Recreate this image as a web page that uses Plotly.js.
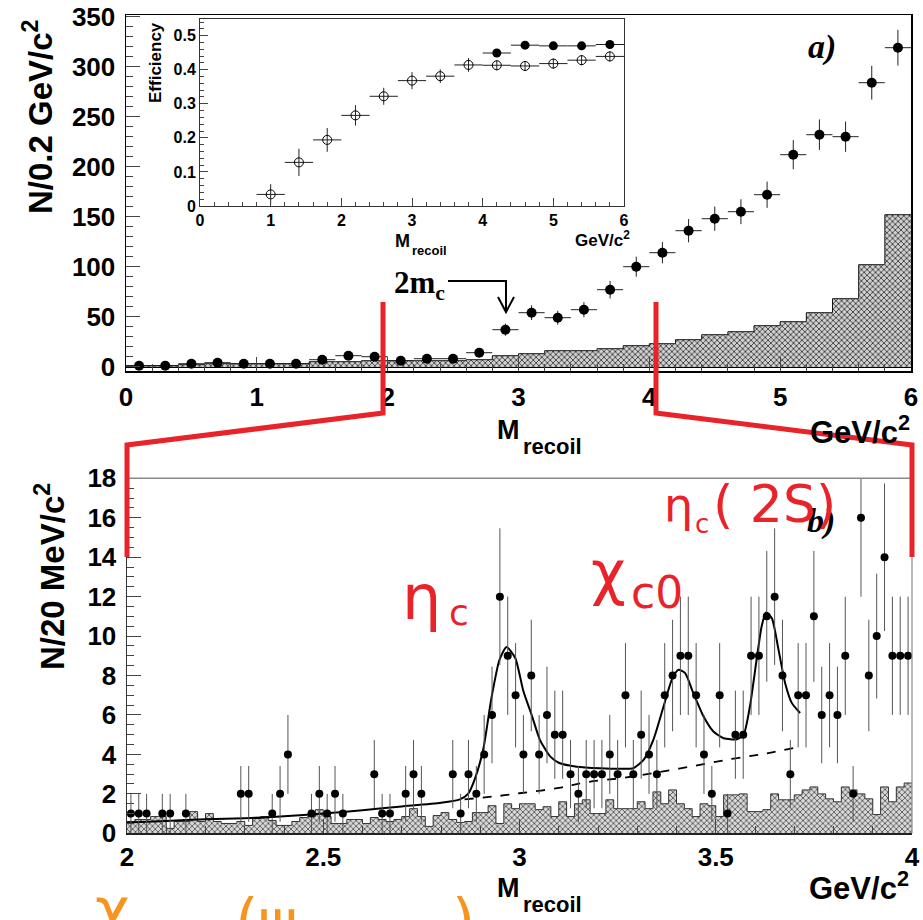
<!DOCTYPE html>
<html><head><meta charset="utf-8">
<script src="https://cdn.plot.ly/plotly-3.0.1.min.js"></script>
<style>html,body{margin:0;padding:0;background:#fff}#chart{width:923px;height:920px}</style>
</head><body><div id="chart"></div>
<script>
// ---------- DATA ----------
// Top panel (a): bins of 0.2 GeV/c^2 from 0 to 6
const topBinStart = 0, topBinWidth = 0.2;
const topCounts = [1,1,3,4,3,3,3,7,11,10,6,8,8,14,37,54,49,57,77,100,114,136,148,155,172,212,232,230,284,319];
const topBackground = [1,1,2,3,3,3,3,5,5,6,6,6,6,7,11,13,16,16,18,21,23,27,32,35,41,45,54,68,102,152];
// Inset: efficiency
const effX = [1.0,1.4,1.8,2.2,2.6,3.0,3.4,3.8,4.2,4.6,5.0,5.4,5.8];
const effOpen = [0.034,0.128,0.194,0.266,0.322,0.368,0.381,0.414,0.413,0.411,0.418,0.428,0.439];
const effOpenErr = [0.03,0.04,0.035,0.03,0.025,0.025,0.02,0.02,0.015,0.015,0.015,0.015,0.015];
const effFilledX = [4.2,4.6,5.0,5.4,5.8];
const effFilled = [0.449,0.472,0.470,0.470,0.474];
const effFilledErr = [0.01,0.01,0.01,0.01,0.01];
// Bottom panel (b): 20 MeV bins from 2.0 to 4.0
const botBinStart = 2.0, botBinWidth = 0.02;
const botX = [2.01,2.03,2.05,2.09,2.11,2.15,2.29,2.31,2.37,2.39,2.41,2.47,2.49,2.51,2.53,2.55,2.63,2.65,2.67,2.71,2.73,2.75,2.83,2.85,2.87,2.89,2.91,2.93,2.95,2.97,2.99,3.01,3.03,3.05,3.07,3.09,3.11,3.13,3.15,3.17,3.19,3.21,3.23,3.25,3.27,3.29,3.31,3.33,3.35,3.37,3.39,3.41,3.43,3.45,3.47,3.49,3.51,3.53,3.55,3.57,3.59,3.61,3.63,3.65,3.67,3.69,3.71,3.73,3.75,3.77,3.79,3.81,3.83,3.85,3.87,3.89,3.91,3.93,3.95,3.97,3.99];
const botCounts = [1,1,1,1,1,1,2,2,1,2,4,1,2,1,2,1,3,1,1,2,3,2,3,1,3,2,4,6,12,9,7,4,8,4,6,5,5,3,2,3,3,3,4,3,7,3,5,4,3,7,8,9,9,7,4,2,7,1,5,5,9,9,11,12,8,3,7,7,11,6,7,6,9,2,16,8,10,14,9,9,9];
const botBackground = [0.6,0.7,0.7,0.85,0.85,0.25,0.6,0.6,1.1,0.6,
  1.0,0.6,0.5,0.5,0.6,0.4,0.75,0.85,0.65,0.4,
  0.4,0.6,0.8,0.85,1.2,0.85,0.5,0.5,0.7,0.7,
  0.5,0.8,0.7,0.6,0.7,0.85,1.25,0.85,0.35,0.9,
  1.05,0.7,0.55,0.6,1.05,1.05,1.4,0.5,1.5,1.25,
  1.5,1.5,1.2,1.35,0.85,1.6,0.85,1.5,1.7,1.0,
  1.0,1.7,1.25,1.25,1.25,1.6,1.25,2.1,1.5,2.2,
  1.5,1.25,0.85,1.5,1.4,0.85,1.95,1.95,2.0,1.1,
  1.1,1.2,2.0,1.7,1.7,1.95,2.2,2.35,2.0,1.75,
  1.6,2.35,2.2,2.0,1.75,0.95,2.35,1.6,2.35,2.55];
const fitX = [2.0,2.1,2.2,2.3,2.4,2.5,2.6,2.7,2.8,2.848,2.869,2.887,2.908,2.928,2.949,2.967,2.989,3.010,3.031,3.052,3.078,3.103,3.146,3.205,3.256,3.290,3.316,3.341,3.367,3.388,3.405,3.422,3.443,3.469,3.494,3.520,3.554,3.571,3.587,3.604,3.617,3.628,3.643,3.660,3.677,3.694,3.715];
const fitY = [0.55,0.63,0.71,0.76,0.86,1.0,1.17,1.36,1.55,1.72,2.0,2.8,4.3,6.8,8.8,9.44,8.9,7.2,6.0,4.74,3.9,3.55,3.38,3.3,3.27,3.3,3.72,4.74,6.43,7.78,8.29,8.12,7.1,5.92,5.16,4.82,4.77,5.0,6.43,8.8,10.5,11.2,10.9,9.3,7.6,6.6,6.1];
const bkgX = [2.86,2.95,3.0,3.1,3.17,3.26,3.34,3.44,3.54,3.63,3.715];
const bkgY = [1.72,1.9,2.03,2.3,2.59,2.8,3.05,3.4,3.77,4.05,4.4];
const topXTicks = [0,1,2,3,4,5,6];
const topYTicks = [0,50,100,150,200,250,300,350];
const botXTicks = [2,2.5,3,3.5,4];
const botXTickText = ['2','2.5','3','3.5','4'];
const botYTicks = [0,2,4,6,8,10,12,14,16,18];

// ---------- helpers ----------
const W = 923, H = 920;
const px = x => x / W, py = y => 1 - y / H;
function centers(start, width, n){ const c=[]; for(let i=0;i<n;i++) c.push(+(start+width*(i+0.5)).toFixed(4)); return c; }
function stepXY(start, width, vals){ const x=[],y=[]; for(let i=0;i<vals.length;i++){x.push(start+width*i);y.push(vals[i]);} x.push(start+width*vals.length); y.push(vals[vals.length-1]); return {x,y}; }

const topBgC = centers(topBinStart, topBinWidth, topBackground.length);
const topC = centers(topBinStart, topBinWidth, topCounts.length);
const botBgC = centers(botBinStart, botBinWidth, botBackground.length);
const topStep = stepXY(topBinStart, topBinWidth, topBackground);
const botStep = stepXY(botBinStart, botBinWidth, botBackground);

const traces = [
  {type:'bar', x:topBgC, y:topBackground, width:topBinWidth, xaxis:'x', yaxis:'y',
   marker:{color:'#d0d0d0', pattern:{shape:'x', fgcolor:'#333', bgcolor:'#d0d0d0', size:4, solidity:0.38}, line:{width:0}}, hoverinfo:'skip'},
  {type:'scatter', mode:'lines', x:topStep.x, y:topStep.y, line:{shape:'hv', color:'#111', width:1}, xaxis:'x', yaxis:'y', hoverinfo:'skip'},
  {type:'scatter', mode:'markers', x:topC, y:topCounts, xaxis:'x', yaxis:'y',
   marker:{color:'black', size:10},
   error_y:{type:'sqrt', width:0, thickness:1, color:'#222'},
   error_x:{type:'constant', value:topBinWidth/2, width:0, thickness:1, color:'#222'}},
  {type:'scatter', mode:'markers', x:effX, y:effOpen, xaxis:'x2', yaxis:'y2',
   marker:{symbol:'circle-open', color:'black', size:9, line:{width:1}},
   error_y:{type:'data', array:effOpenErr, width:0, thickness:1, color:'#222'},
   error_x:{type:'constant', value:0.2, width:0, thickness:1, color:'#222'}},
  {type:'scatter', mode:'markers', x:effFilledX, y:effFilled, xaxis:'x2', yaxis:'y2',
   marker:{symbol:'circle', color:'black', size:9},
   error_y:{type:'data', array:effFilledErr, width:0, thickness:1, color:'#222'},
   error_x:{type:'constant', value:0.2, width:0, thickness:1, color:'#222'}},
  {type:'bar', x:botBgC, y:botBackground, width:botBinWidth, xaxis:'x3', yaxis:'y3',
   marker:{color:'#d4d4d4', pattern:{shape:'x', fgcolor:'#333', bgcolor:'#d8d8d8', size:4, solidity:0.32}, line:{width:0}}, hoverinfo:'skip'},
  {type:'scatter', mode:'lines', x:botStep.x, y:botStep.y, line:{shape:'hv', color:'#333', width:1}, xaxis:'x3', yaxis:'y3', hoverinfo:'skip'},
  {type:'scatter', mode:'lines', x:bkgX, y:bkgY, xaxis:'x3', yaxis:'y3', line:{color:'black', width:1.8, dash:'dash', shape:'spline'}},
  {type:'scatter', mode:'lines', x:fitX, y:fitY, xaxis:'x3', yaxis:'y3', line:{color:'black', width:2, shape:'spline', smoothing:0.6}},
  {type:'scatter', mode:'markers', x:botX, y:botCounts, xaxis:'x3', yaxis:'y3',
   marker:{color:'black', size:8},
   error_y:{type:'sqrt', width:0, thickness:1, color:'#555'}}
];

const bold = {family:'Liberation Sans, Arial, sans-serif', weight:'bold', color:'black'};
function ann(text, x, y, size, o){
  return Object.assign({text:text, x:px(x), y:py(y), xref:'paper', yref:'paper', showarrow:false,
    xanchor:'center', yanchor:'middle', font:Object.assign({}, bold, {size:size})}, o||{});
}
const red = '#e8232a', orange = '#f7941d';
const redFont = s => ({family:'DejaVu Sans, sans-serif', size:s, color:red});
const orangeFont = s => ({family:'DejaVu Sans, sans-serif', size:s, color:orange});
const serifBI = s => ({family:'Liberation Serif, serif', size:s, weight:'bold', style:'italic', color:'black'});

const annotations = [
  ann('N/0.2 GeV/c<sup>2</sup>', 38, 117, 33, {textangle:-90}),
  ann('M', 508, 430, 27),
  ann('recoil', 521, 446, 22, {xanchor:'left'}),
  ann('GeV/c<sup>2</sup>', 912, 430, 31, {xanchor:'right'}),
  ann('Efficiency', 156, 63, 17, {textangle:-90}),
  ann('M', 402, 241, 18),
  ann('recoil', 410, 250, 13, {xanchor:'left'}),
  ann('GeV/c<sup>2</sup>', 632, 239, 17, {xanchor:'right'}),
  ann('a)', 822, 47, 34, {font:serifBI(34)}),
  ann('2m<sub>c</sub>', 447, 285, 31, {xanchor:'right', font:{family:'Liberation Serif, serif', size:31, weight:'bold', color:'black'}}),
  ann('N/20 MeV/c<sup>2</sup>', 50, 577, 33, {textangle:-90}),
  ann('M', 508, 888, 27),
  ann('recoil', 521, 904, 22, {xanchor:'left'}),
  ann('GeV/c<sup>2</sup>', 911, 886, 31, {xanchor:'right'}),
  ann('b)', 821, 521, 34, {font:serifBI(34)}),
  ann('η', 421, 597, 62, {font:redFont(62)}),
  ann('c', 459, 612, 36, {font:redFont(36)}),
  ann('χ', 608, 572, 60, {font:redFont(60)}),
  ann('c0', 657, 592, 44, {font:redFont(44)}),
  ann('η', 678, 505, 46, {font:redFont(46)}),
  ann('c', 702, 524, 26, {font:redFont(26)}),
  ann('( 2S)', 774, 504, 52, {font:redFont(52)}),
  ann('χ', 112, 872, 60, {yanchor:'top', font:orangeFont(60)}),
  ann('(', 246, 884, 60, {yanchor:'top', font:orangeFont(60)}),
  ann('ψ', 278, 884, 60, {yanchor:'top', font:orangeFont(60)}),
  ann(')', 464, 884, 60, {yanchor:'top', font:orangeFont(60)})
];

function path(pts){ return 'M ' + pts.map(p => px(p[0]) + ',' + py(p[1])).join(' L '); }
const shapes = [
  {type:'line', xref:'paper', yref:'paper', x0:px(127), x1:px(912), y0:py(478.3), y1:py(478.3), line:{color:'#8a8a8a', width:1.5}},
  {type:'line', xref:'paper', yref:'paper', x0:px(912), x1:px(912), y0:py(478.3), y1:py(833.3), line:{color:'#8a8a8a', width:1.2}},
  {type:'path', xref:'paper', yref:'paper', path:path([[448,281],[506,281],[506,311]]), line:{color:'black', width:2}},
  {type:'path', xref:'paper', yref:'paper', path:path([[498,297],[506,312],[514,297]]), line:{color:'black', width:2}},
  {type:'path', xref:'paper', yref:'paper', path:path([[383,302],[383,413],[127,445],[127,557]]), line:{color:red, width:5}},
  {type:'path', xref:'paper', yref:'paper', path:path([[656,302],[656,413],[912,445],[912,557]]), line:{color:red, width:5}}
];

const tf = s => ({family:'Liberation Sans, Arial, sans-serif', size:s, weight:'bold', color:'black'});
const layout = {
  width:W, height:H, margin:{l:0,r:0,t:0,b:0}, showlegend:false,
  paper_bgcolor:'white', plot_bgcolor:'rgba(0,0,0,0)', bargap:0,
  xaxis:{domain:[px(126),px(911)], range:[0,6], anchor:'y', showline:true, mirror:true, linecolor:'black', linewidth:1.5,
    ticks:'inside', ticklen:14, tickwidth:1, tickvals:topXTicks, minor:{ticks:'inside', ticklen:7, dtick:0.2, tick0:0},
    tickfont:tf(26), showgrid:false, zeroline:false, ticklabelstandoff:2},
  yaxis:{domain:[py(371),py(15)], range:[-4.3,351.7], anchor:'x', showline:true, mirror:true, linecolor:'black', linewidth:1.5,
    ticks:'inside', ticklen:14, tickwidth:1, tickvals:topYTicks, minor:{ticks:'inside', ticklen:7, dtick:10, tick0:0},
    tickfont:tf(26), showgrid:false, zeroline:true, zerolinecolor:'black', zerolinewidth:2.5, ticklabelstandoff:4},
  xaxis2:{domain:[px(200),px(624)], range:[0,6], anchor:'y2', showline:true, mirror:true, linecolor:'#333', linewidth:1,
    ticks:'inside', ticklen:8, tickwidth:1, dtick:1, tick0:0, minor:{ticks:'inside', ticklen:4, dtick:0.2, tick0:0},
    tickfont:tf(16), showgrid:false, zeroline:false},
  yaxis2:{domain:[py(206),py(18.6)], range:[0,0.55], anchor:'x2', showline:true, mirror:true, linecolor:'#333', linewidth:1,
    ticks:'inside', ticklen:8, tickwidth:1, tickvals:[0,0.1,0.2,0.3,0.4,0.5], ticktext:['0','0.1','0.2','0.3','0.4','0.5'],
    minor:{ticks:'inside', ticklen:4, dtick:0.02, tick0:0}, tickfont:tf(16), showgrid:false, zeroline:false},
  xaxis3:{domain:[px(127),px(912)], range:[2,4], anchor:'y3', showline:true, mirror:false, linecolor:'#222', linewidth:1.5,
    ticks:'inside', ticklen:14, tickwidth:1, tickvals:botXTicks, ticktext:botXTickText, minor:{ticks:'inside', ticklen:7, dtick:0.1, tick0:2},
    tickfont:tf(26), showgrid:false, zeroline:false, ticklabelstandoff:0},
  yaxis3:{domain:[py(833.3),py(478.3)], range:[0,18], anchor:'x3', showline:true, mirror:false, linecolor:'#333', linewidth:1.5,
    ticks:'inside', ticklen:14, tickwidth:1, tickvals:botYTicks, minor:{ticks:'inside', ticklen:7, dtick:0.5, tick0:0},
    tickfont:tf(26), showgrid:false, zeroline:false, ticklabelstandoff:4},
  annotations:annotations, shapes:shapes
};
Plotly.newPlot('chart', traces, layout, {staticPlot:true, displayModeBar:false});
</script></body></html>
